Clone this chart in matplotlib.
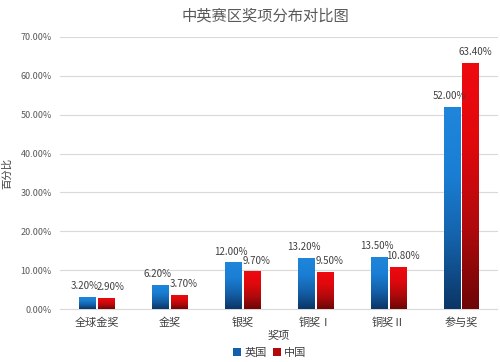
import numpy as np
import matplotlib.pyplot as plt
from matplotlib.colors import LinearSegmentedColormap
from matplotlib.patches import Patch

plt.rcParams['font.family'] = ['Noto Sans CJK SC', 'DejaVu Sans']

categories = ["全球金奖", "金奖", "银奖", "铜奖Ⅰ", "铜奖Ⅱ", "参与奖"]
uk = [3.2, 6.2, 12.0, 13.2, 13.5, 52.0]
cn = [2.9, 3.7, 9.7, 9.5, 10.8, 63.4]
yticks = [0, 10, 20, 30, 40, 50, 60, 70]

blue_cmap = LinearSegmentedColormap.from_list("b", ["#0b3566", "#1460a8", "#1a7fd4", "#1f86dc"])
red_cmap = LinearSegmentedColormap.from_list("r", ["#6e0606", "#b00a0c", "#e0080c", "#ee0a10"])

fig = plt.figure(figsize=(5, 3.62), dpi=100)
ax = fig.add_axes([0.12, 0.146, 0.875, 0.752])

x = np.arange(len(categories))
w = 0.22
gap = 0.04
grad = np.linspace(0, 1, 256).reshape(-1, 1)

def gradient_bars(xs, vals, cmap):
    bars = ax.bar(xs, vals, w, color="none", edgecolor="none", zorder=3)
    for b in bars:
        x0, y0 = b.get_x(), b.get_y()
        im = ax.imshow(grad, cmap=cmap, origin="lower", aspect="auto",
                       extent=[x0, x0 + b.get_width(), y0, y0 + b.get_height()],
                       zorder=3)
        im.set_clip_path(b)
    return bars

xb = x - w / 2 - gap / 2
xr = x + w / 2 + gap / 2
gradient_bars(xb, uk, blue_cmap)
gradient_bars(xr, cn, red_cmap)

for xi, v in zip(xb, uk):
    ax.text(xi - 0.03, v + 1.5, f"{v:.2f}%", ha="center", va="bottom", fontsize=7, color="#404040", zorder=4)
for xi, v in zip(xr, cn):
    ax.text(xi + 0.07, v + 1.5, f"{v:.2f}%", ha="center", va="bottom", fontsize=7, color="#404040", zorder=4)

ax.set_xlim(-0.5, len(categories) - 0.5)
ax.set_ylim(0, 70)
ax.set_yticks(yticks)
ax.set_yticklabels([f"{t:.2f}%" for t in yticks], fontsize=6.5, color="#595959")
ax.set_xticks(x)
ax.set_xticklabels(categories, fontsize=8, color="#404040")
ax.tick_params(length=0, pad=6)
ax.grid(axis="y", color="#d9d9d9", linewidth=0.8, zorder=0)
for s in ["top", "right", "left"]:
    ax.spines[s].set_visible(False)
ax.spines["bottom"].set_color("#d9d9d9")

ax.set_xlabel("奖项", fontsize=8, color="#404040", labelpad=2)
ax.set_ylabel("百分比", fontsize=7.5, color="#404040", labelpad=6)
fig.text(0.53, 0.955, "中英赛区奖项分布对比图", ha="center", va="center", fontsize=11, color="#595959")

handles = [Patch(facecolor="#1460a8", label="英国"), Patch(facecolor="#b00a0c", label="中国")]
fig.legend(handles=handles, loc="center", bbox_to_anchor=(0.54, 0.025), ncol=2, frameon=False,
           fontsize=8, handlelength=0.7, handleheight=0.7, handletextpad=0.3, columnspacing=0.6,
           labelcolor="#404040")

fig.savefig("out.png", dpi=100)
